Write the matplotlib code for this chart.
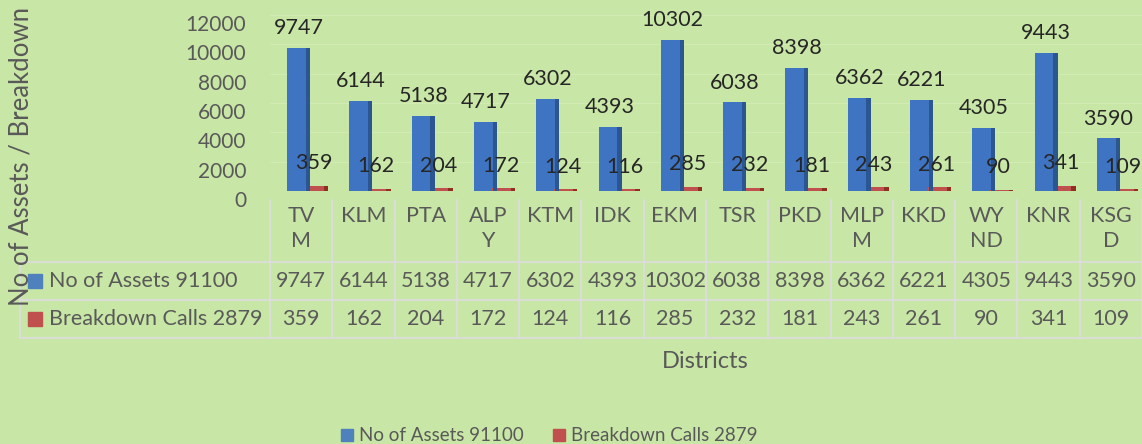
import matplotlib.pyplot as plt
from matplotlib.transforms import ScaledTranslation
from matplotlib.lines import Line2D
from matplotlib.patches import Rectangle

districts = ["TVM", "KLM", "PTA", "ALPY", "KTM", "IDK", "EKM", "TSR", "PKD", "MLPM", "KKD", "WYND", "KNR", "KSGD"]
district_labels = ["TV\nM", "KLM", "PTA", "ALP\nY", "KTM", "IDK", "EKM", "TSR", "PKD", "MLP\nM", "KKD", "WY\nND", "KNR", "KSG\nD"]
assets = [9747, 6144, 5138, 4717, 6302, 4393, 10302, 6038, 8398, 6362, 6221, 4305, 9443, 3590]
breakdowns = [359, 162, 204, 172, 124, 116, 285, 232, 181, 243, 261, 90, 341, 109]
series_names = ["No of Assets 91100", "Breakdown Calls 2879"]

W, H = 1142, 444
bg = "#c8e6a5"
txt = "#595959"
line_col = "#dcdcdc"
blue = "#3f74c2"
blue_dark = "#2b5692"
red = "#c0504d"
red_dark = "#8e2f22"

plt.rcParams["font.family"] = ["Lato", "DejaVu Sans"]
fs = 15.5

fig = plt.figure(figsize=(W / 100, H / 100), dpi=100, facecolor=bg)


def fx(x):
    return x / W


def fy(y):
    return 1 - y / H


# plot area in pixel coords: columns from x=270 to 1142, zero at y=191
left, right, zero_y, top_y = 270, 1142, 191, 15
ax = fig.add_axes([fx(left), fy(zero_y), (right - left) / W, (zero_y - top_y) / H])
ax.set_facecolor(bg)
ax.set_xlim(-0.5, len(districts) - 0.5)
ax.set_ylim(0, 12000)
for s in ax.spines.values():
    s.set_visible(False)
ax.set_xticks([])
ax.set_yticks(range(0, 12001, 2000))
ax.tick_params(axis="y", length=0, pad=17, labelsize=15, labelcolor=txt)
for lab in ax.get_yticklabels():
    lab.set_transform(lab.get_transform() + ScaledTranslation(0, -8 / 100, fig.dpi_scale_trans))
ax.grid(axis="y", color="#d2ebb3", linewidth=0.8)
ax.set_axisbelow(True)

x = list(range(len(districts)))
bx = [i - 0.04 for i in x]
rx = [i + 0.25 for i in x]

# blue bars: front face plus darker side strip
ax.bar(bx, assets, width=0.37, color=blue, zorder=3)
ax.bar([b + 0.15 for b in bx], assets, width=0.07, color=blue_dark, zorder=4)
# red bars
ax.bar(rx, breakdowns, width=0.37, color=red, zorder=3)
ax.bar([r + 0.15 for r in rx], breakdowns, width=0.07, color=red_dark, zorder=4)

for i in x:
    ax.annotate(str(assets[i]), (bx[i], assets[i]), xytext=(0, 7), textcoords="offset points",
                ha="center", va="bottom", fontsize=fs, color="#262626", zorder=5)
    ax.annotate(str(breakdowns[i]), (rx[i] - 0.05, breakdowns[i]), xytext=(0, 9), textcoords="offset points",
                ha="center", va="bottom", fontsize=fs, color="#262626", zorder=5)

# data table drawn below the plot
col_w = (right - left) / len(districts)
lines = []
for k in range(len(districts) + 1):
    cx = left + k * col_w
    lines.append(([cx, cx], [200, 338]))
lines.append(([20, 20], [262, 338]))
for yy in (262, 300, 338):
    lines.append(([20, right], [yy, yy]))
for xs, ys in lines:
    fig.add_artist(Line2D([fx(v) for v in xs], [fy(v) for v in ys], color=line_col, linewidth=1.3))

for i, lab in enumerate(district_labels):
    cx = left + (i + 0.5) * col_w
    fig.text(fx(cx), fy(206), lab, ha="center", va="top", fontsize=fs, color=txt, linespacing=1.3)
    fig.text(fx(cx), fy(281), str(assets[i]), ha="center", va="center", fontsize=fs, color=txt)
    fig.text(fx(cx), fy(319), str(breakdowns[i]), ha="center", va="center", fontsize=fs, color=txt)

for name, col, yy in ((series_names[0], "#4f81bd", 281), (series_names[1], red, 319)):
    fig.add_artist(Rectangle((fx(28), fy(yy + 7)), 14 / W, 14 / H, color=col, transform=fig.transFigure))
    fig.text(fx(49), fy(yy), name, ha="left", va="center", fontsize=fs, color=txt)

fig.text(fx(21), fy(156), "No of Assets / Breakdown", rotation=90, ha="center", va="center",
         fontsize=18.5, color=txt)
fig.text(fx(705), fy(361), "Districts", ha="center", va="center", fontsize=17, color=txt)

# legend at bottom
for name, col, sx in ((series_names[0], "#4f81bd", 341), (series_names[1], red, 553)):
    fig.add_artist(Rectangle((fx(sx), fy(441)), 12 / W, 12 / H, color=col, transform=fig.transFigure))
    fig.text(fx(sx + 18), fy(435), name, ha="left", va="center", fontsize=13.5, color=txt)

fig.savefig("out.png", dpi=100, facecolor=bg)
